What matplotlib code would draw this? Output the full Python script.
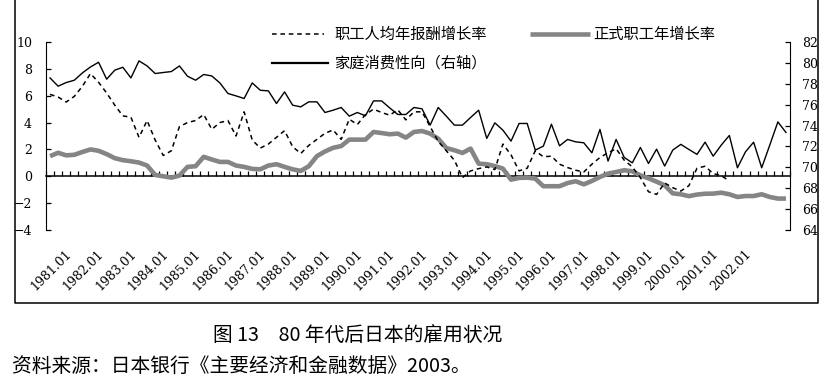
import matplotlib
matplotlib.use("Agg")
import matplotlib.pyplot as plt
from matplotlib.lines import Line2D

W, H = 828, 381
CJK = ["Noto Sans CJK SC", "DejaVu Sans"]
NUM = "DejaVu Serif"
plt.rcParams["font.family"] = [NUM]

# quarterly series (left axis: %, right axis: %)
wage_growth = [6.1, 5.9, 5.53, 5.95, 6.7, 7.65, 7.0, 6.2, 5.3, 4.5,
               4.4, 2.9, 4.15, 2.7, 1.55, 1.9, 3.7, 4.0, 4.15, 4.6,
               3.5, 4.0, 4.15, 3.0, 4.8, 2.7, 2.1, 2.4, 2.9, 3.4,
               2.2, 1.7, 2.3, 2.75, 3.2, 3.45, 2.75, 4.25, 3.85, 4.6,
               5.0, 4.75, 4.55, 4.95, 4.2, 4.8, 4.8, 3.7, 2.6, 1.9,
               1.2, -0.1, 0.4, 0.57, 0.7, 0.5, 2.4, 1.6, 0.4, 0.6,
               1.9, 1.45, 1.5, 0.9, 0.65, 0.45, 0.32, 0.9, 1.4, 1.75,
               2.05, 1.2, 0.7, -0.1, -1.15, -1.35, -0.5, -0.85, -1.1, -0.7,
               0.6, 0.75, 0.2, 0.05, -0.35]
regular_growth = [1.5, 1.75, 1.56, 1.6, 1.81, 2.0, 1.9, 1.65, 1.35, 1.2,
                  1.12, 1.02, 0.8, 0.1, 0.0, -0.1, 0.05, 0.7, 0.75, 1.45,
                  1.25, 1.07, 1.07, 0.8, 0.7, 0.55, 0.52, 0.8, 0.9, 0.7,
                  0.52, 0.4, 0.75, 1.5, 1.85, 2.12, 2.25, 2.73, 2.73, 2.73,
                  3.3, 3.22, 3.13, 3.18, 2.88, 3.3, 3.37, 3.18, 2.8, 2.1,
                  1.94, 1.74, 2.06, 0.94, 0.9, 0.76, 0.57, -0.25, -0.12, -0.1,
                  -0.17, -0.74, -0.74, -0.74, -0.5, -0.37, -0.6, -0.35, -0.05, 0.2,
                  0.32, 0.45, 0.37, 0.07, -0.15, -0.4, -0.67, -1.27, -1.34, -1.48,
                  -1.36, -1.3, -1.29, -1.22, -1.34, -1.54, -1.47, -1.47, -1.34, -1.54,
                  -1.66, -1.66]
consumption = [78.56, 77.77, 78.12, 78.34, 79.04, 79.61, 80.06, 78.44, 79.30, 79.58,
               78.56, 80.19, 79.71, 78.98, 79.08, 79.17, 79.71, 78.72, 78.34, 78.89,
               78.75, 78.08, 77.07, 76.84, 76.59, 78.08, 77.38, 77.32, 76.11, 77.22,
               75.95, 75.79, 76.27, 76.27, 75.25, 75.47, 75.73, 74.9, 75.25, 74.93,
               76.36, 76.36, 75.69, 75.06, 75.06, 75.73, 75.6, 74.04, 75.73, 74.9,
               74.04, 74.04, 74.77, 75.47, 72.77, 74.26, 73.56, 72.51, 74.2, 74.2,
               71.65, 72.03, 74.13, 72.06, 72.67, 72.44, 72.35, 71.39, 73.63, 70.6,
               72.67, 70.95, 70.43, 71.9, 70.37, 71.74, 70.12, 71.65, 72.2, 71.71,
               71.24, 72.41, 71.07, 72.13, 73.05, 69.96, 71.49, 72.41, 69.96, 72.13,
               74.35, 73.34]
tick_labels = ["1981.01", "1982.01", "1983.01", "1984.01", "1985.01", "1986.01",
               "1987.01", "1988.01", "1989.01", "1990.01", "1991.01", "1992.01",
               "1993.01", "1994.01", "1995.01", "1996.01", "1997.01", "1998.01",
               "1999.01", "2000.01", "2001.01", "2002.01"]
left_ticks = [-4, -2, 0, 2, 4, 6, 8, 10]
right_ticks = [64, 66, 68, 70, 72, 74, 76, 78, 80, 82]

GRAY = "#858585"


def fx(px):
    return px / W


def fy(py):
    return 1 - py / H


fig = plt.figure(figsize=(W / 100, H / 100), dpi=100)
ax = fig.add_axes([fx(46), fy(230), fx(790) - fx(46), fy(42) - fy(230)])
ax2 = ax.twinx()

n = len(consumption)
xs = list(range(n))

ax.plot(xs, regular_growth, color=GRAY, lw=3.3, solid_capstyle="butt", zorder=3)
ax.plot(xs[:len(wage_growth)], wage_growth, color="black", lw=1.1,
        dashes=(3, 2.5), zorder=4)
ax2.plot(xs, consumption, color="black", lw=1.0, zorder=4)

ax.set_xlim(-0.5, n - 0.5)
ax.set_ylim(-4, 10)
ax2.set_ylim(64, 82)

# category axis sits on the zero line, ticks between quarters
ax.spines["bottom"].set_position(("data", 0))
ax.spines["bottom"].set_linewidth(1.1)
ax.spines["top"].set_visible(False)
ax.spines["right"].set_visible(False)
ax.set_xticks([i - 0.5 for i in range(n + 1)])
ax.set_xticklabels([])
ax.tick_params(axis="x", direction="in", length=3.5, width=0.9)

ax.set_yticks(left_ticks)
ax.tick_params(axis="y", direction="in", length=3.5, width=0.9, pad=10,
               labelsize=9, labelfontfamily=NUM)
for sp in ["top", "bottom", "left"]:
    ax2.spines[sp].set_visible(False)
ax2.set_yticks(right_ticks)
ax2.tick_params(axis="y", direction="in", length=3.5, width=0.9, pad=9,
                labelsize=9, labelfontfamily=NUM)

for k, lab in enumerate(tick_labels):
    ax.text(3 + 4 * k - 0.6, -5.66, lab, rotation=45, rotation_mode="anchor",
            ha="right", va="center", fontsize=9, family=NUM, clip_on=False)

# legend drawn by hand
fig.add_artist(Line2D([fx(272), fx(324)], [fy(34), fy(34)], color="black",
                      lw=1.1, dashes=(3, 2.5)))
fig.text(fx(334), fy(34), "职工人均年报酬增长率", fontsize=11, family=CJK,
         va="center")
fig.add_artist(Line2D([fx(272), fx(328)], [fy(63), fy(63)], color="black", lw=1.6))
fig.text(fx(334), fy(63), "家庭消费性向（右轴）", fontsize=11, family=CJK,
         va="center")
fig.add_artist(Line2D([fx(530), fx(590)], [fy(34), fy(34)], color=GRAY, lw=3.3,
                      solid_capstyle="butt"))
fig.text(fx(593), fy(34), "正式职工年增长率", fontsize=11, family=CJK,
         va="center")

# outer frame of the chart
fig.add_artist(Line2D([fx(15.5), fx(15.5), fx(818.5), fx(818.5)],
                      [fy(0), fy(303), fy(303), fy(0)], color="black", lw=1.1))

fig.text(fx(213), fy(335), "图 13\u300080 年代后日本的雇用状况", fontsize=14.2,
         family=CJK, va="center")
fig.text(fx(12), fy(366), "资料来源：日本银行《主要经济和金融数据》2003。",
         fontsize=14.2, family=CJK, va="center")

fig.savefig("out.png", dpi=100)
